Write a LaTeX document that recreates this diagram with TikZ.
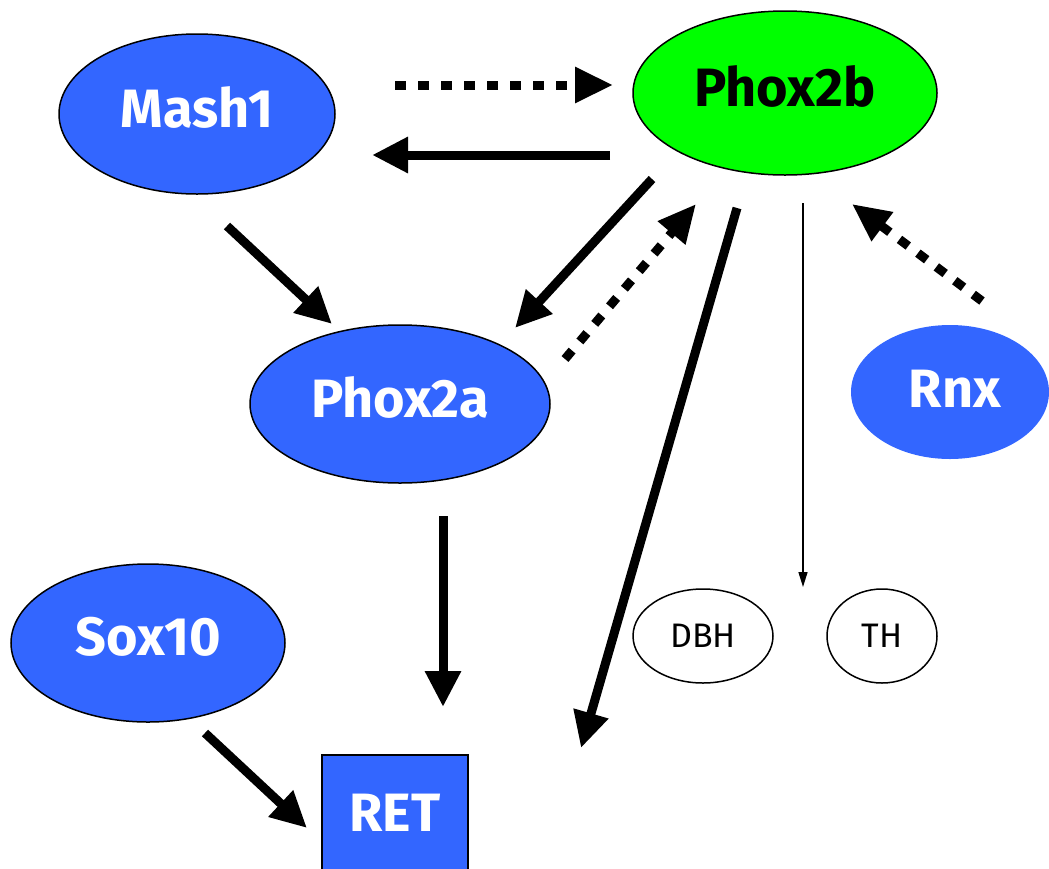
\documentclass[tikz,border=0pt]{standalone}
\usepackage{fontspec}
\setmainfont{Fira Sans}
\usetikzlibrary{shapes.geometric,arrows.meta,calc}
\definecolor{geneblue}{RGB}{51,102,255}
\definecolor{genegreen}{RGB}{0,255,0}
\tikzset{
  gene/.style={ellipse, draw=black, line width=1.5pt, fill=geneblue, inner sep=0pt,
    text=white, font=\fontsize{54}{62}\selectfont\bfseries, text depth=14pt},
  target/.style={ellipse, draw=black, line width=1.5pt, fill=white, inner sep=0pt,
    font=\fontsize{34}{40}\selectfont},
  strong/.style={line width=9pt, -{Triangle[length=36pt,width=34pt]}},
  weak/.style={line width=9pt, dash pattern=on 11pt off 12pt, -{Triangle[length=38pt,width=34pt]}},
  thin/.style={line width=1.5pt, -{Triangle[length=15pt,width=9pt]}}
}
\begin{document}
\begin{tikzpicture}[x=1pt,y=-1pt]
\useasboundingbox (0,0) rectangle (1049,868);
\clip (0,0) rectangle (1049,868);

% regulators
\node[gene, minimum width=276pt, minimum height=160pt] (mash) at (197,114) {Mash1};
\node[gene, fill=genegreen, text=black, minimum width=304pt, minimum height=164pt] (p2b) at (785,93) {Phox2b};
\node[gene, minimum width=300pt, minimum height=158pt] (p2a) at (400,404) {Phox2a};
\node[gene, draw=none, minimum width=198pt, minimum height=134pt] (rnx) at (950,392) {\hspace{10pt}\raisebox{-8pt}{Rnx}};
\node[gene, minimum width=274pt, minimum height=158pt] (sox) at (148,643) {Sox10};

% targets
\node[target, minimum width=140pt, minimum height=94pt] (dbh) at (703,636) {DBH};
\node[target, minimum width=110pt, minimum height=94pt] (th) at (882,636) {TH};
\node[draw=black, line width=2pt, fill=geneblue, text=white, inner sep=0pt,
      minimum width=146pt, minimum height=130pt,
      font=\fontsize{54}{62}\selectfont\bfseries] (ret) at (395,820) {\raisebox{15pt}{RET}};

% interactions
\draw[weak]   ($(mash)+(198,-29)$) -- ($(p2b)+(-172,-8)$);
\draw[strong] ($(p2b)+(-175,62)$) -- ($(mash)+(175,41)$);
\draw[strong] ($(mash)+(30,112)$) -- ($(p2a)+(-68,-80)$);
\draw[strong] ($(p2b)+(-133,86)$) -- ($(p2a)+(115,-76)$);
\draw[weak]   ($(p2a)+(165,-45)$) -- ($(p2b)+(-89,111)$);
\draw[strong] ($(p2b)+(-48,115)$) -- ($(ret)+(186,-72)$);
\draw[thin]   ($(p2b)+(18,110)$) -- ($(th)+(-79,-49)$);
\draw[weak]   ($(rnx)+(32,-91)$) -- ($(p2b)+(67,111)$);
\draw[strong] ($(p2a)+(43,112)$) -- ($(ret)+(48,-113)$);
\draw[strong] ($(sox)+(57,90)$) -- ($(ret)+(-88,8)$);
\end{tikzpicture}
\end{document}
